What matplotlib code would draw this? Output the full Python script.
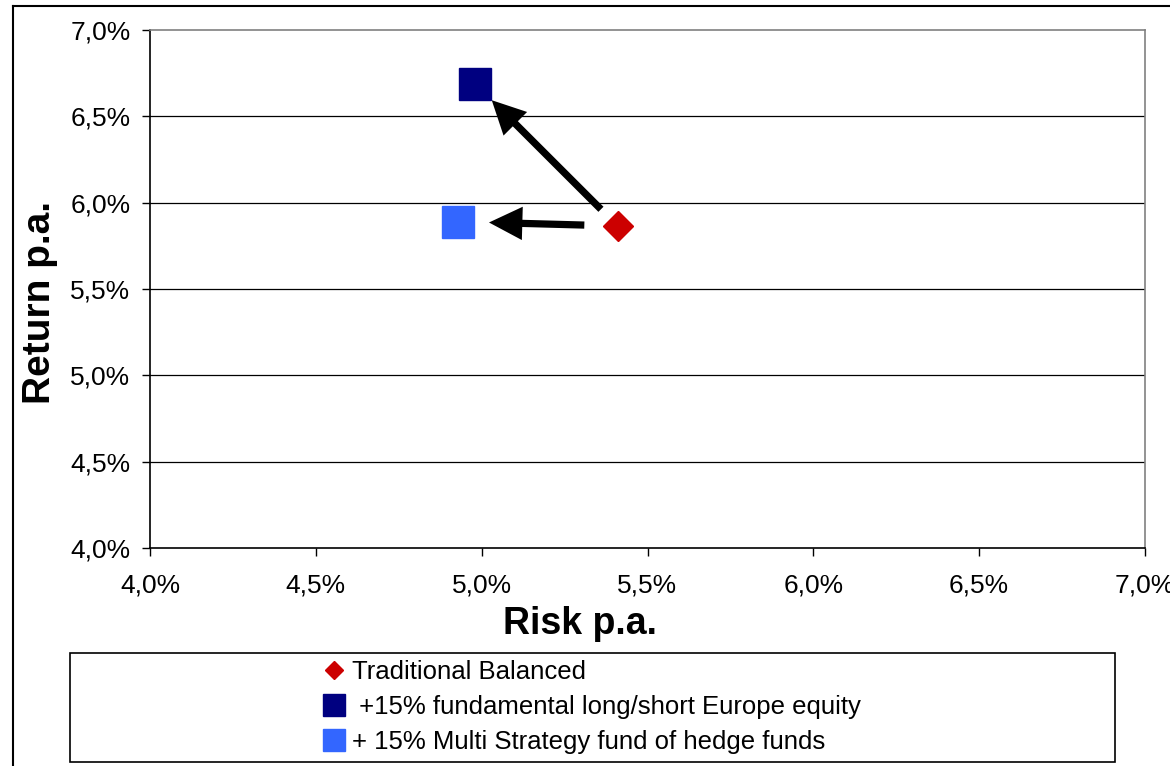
import matplotlib
matplotlib.use("Agg")
import matplotlib.pyplot as plt
from matplotlib.lines import Line2D
from matplotlib.patches import Rectangle

# Dados do gráfico (risco x retorno, em %)
nomes = ["Traditional Balanced",
         " +15% fundamental long/short Europe equity",
         "+ 15% Multi Strategy fund of hedge funds"]
risco = [5.41, 4.98, 4.93]
retorno = [5.865, 6.69, 5.89]
cores = ["#CC0000", "#000080", "#3366FF"]
marcadores = ["D", "s", "s"]
tam_marcador = [15.5, 23, 23]
tam_legenda = [9.5, 16, 16]

ticks = [4.0, 4.5, 5.0, 5.5, 6.0, 6.5, 7.0]
rotulos = ["4,0%", "4,5%", "5,0%", "5,5%", "6,0%", "6,5%", "7,0%"]

plt.rcParams["font.family"] = ["Liberation Sans", "DejaVu Sans"]

fig = plt.figure(figsize=(11.7, 7.66), dpi=100)
W, H = 1170, 766
ax = fig.add_axes([150 / W, 1 - 548 / H, 995 / W, 518 / H])

# Grade horizontal
for t in ticks[1:-1]:
    ax.axhline(t, color="black", lw=0.9, zorder=1)

# Pontos
for x, y, c, m, s in zip(risco, retorno, cores, marcadores, tam_marcador):
    ax.plot(x, y, marker=m, color=c, ms=s, mec=c, ls="none", zorder=3)

# Setas do portfólio tradicional para os novos
estilo = "simple,head_length=0.6,head_width=0.6,tail_width=0.13"
ax.annotate("", xy=(risco[1], retorno[1]), xytext=(risco[0], retorno[0]),
            arrowprops=dict(arrowstyle=estilo, mutation_scale=40, color="black",
                            lw=0, shrinkA=17, shrinkB=17), zorder=2)
ax.annotate("", xy=(risco[2], retorno[2]), xytext=(risco[0], retorno[0]),
            arrowprops=dict(arrowstyle=estilo, mutation_scale=40, color="black",
                            lw=0, shrinkA=24, shrinkB=22), zorder=2)

ax.set_xlim(ticks[0], ticks[-1])
ax.set_ylim(ticks[0], ticks[-1])
ax.set_xticks(ticks)
ax.set_xticklabels(rotulos)
ax.set_yticks(ticks)
ax.set_yticklabels(rotulos)
ax.tick_params(axis="both", direction="out", length=6, width=1, labelsize=19,
               color="black")
ax.tick_params(axis="x", pad=12)
ax.tick_params(axis="y", pad=8)

for lado in ["top", "right"]:
    ax.spines[lado].set_color("#808080")
    ax.spines[lado].set_linewidth(1.2)
for lado in ["left", "bottom"]:
    ax.spines[lado].set_color("black")
    ax.spines[lado].set_linewidth(1.2)

ax.set_xlabel("Risk p.a.", fontsize=27, fontweight="bold", va="center")
ax.xaxis.set_label_coords((580 - 150) / 995, -(624 - 548) / 518)
ax.set_ylabel("Return p.a.", fontsize=28, fontweight="bold", va="center")
ax.yaxis.set_label_coords((40 - 150) / 995, (548 - 302) / 518)

# Moldura externa do gráfico
fig.add_artist(Line2D([13 / W, 13 / W], [0, 1 - 6 / H], color="black", lw=1.5,
                      transform=fig.transFigure))
fig.add_artist(Line2D([13 / W, 1], [1 - 6 / H, 1 - 6 / H], color="black", lw=1.5,
                      transform=fig.transFigure))

# Caixa da legenda
fig.add_artist(Rectangle((70 / W, 1 - 762 / H), 1045 / W, 109 / H,
                         transform=fig.transFigure, fill=False,
                         edgecolor="black", lw=1.2))
alcas = [Line2D([], [], marker=m, color=c, mec=c, ms=s, ls="none")
         for m, c, s in zip(marcadores, cores, tam_legenda)]
fig.legend(alcas, nomes, loc="center", bbox_to_anchor=(592 / W, 1 - 707 / H),
           frameon=False, fontsize=18.5, handlelength=0.8, handletextpad=0.3,
           labelspacing=0.42, borderaxespad=0)

fig.savefig("out.png", dpi=100)
